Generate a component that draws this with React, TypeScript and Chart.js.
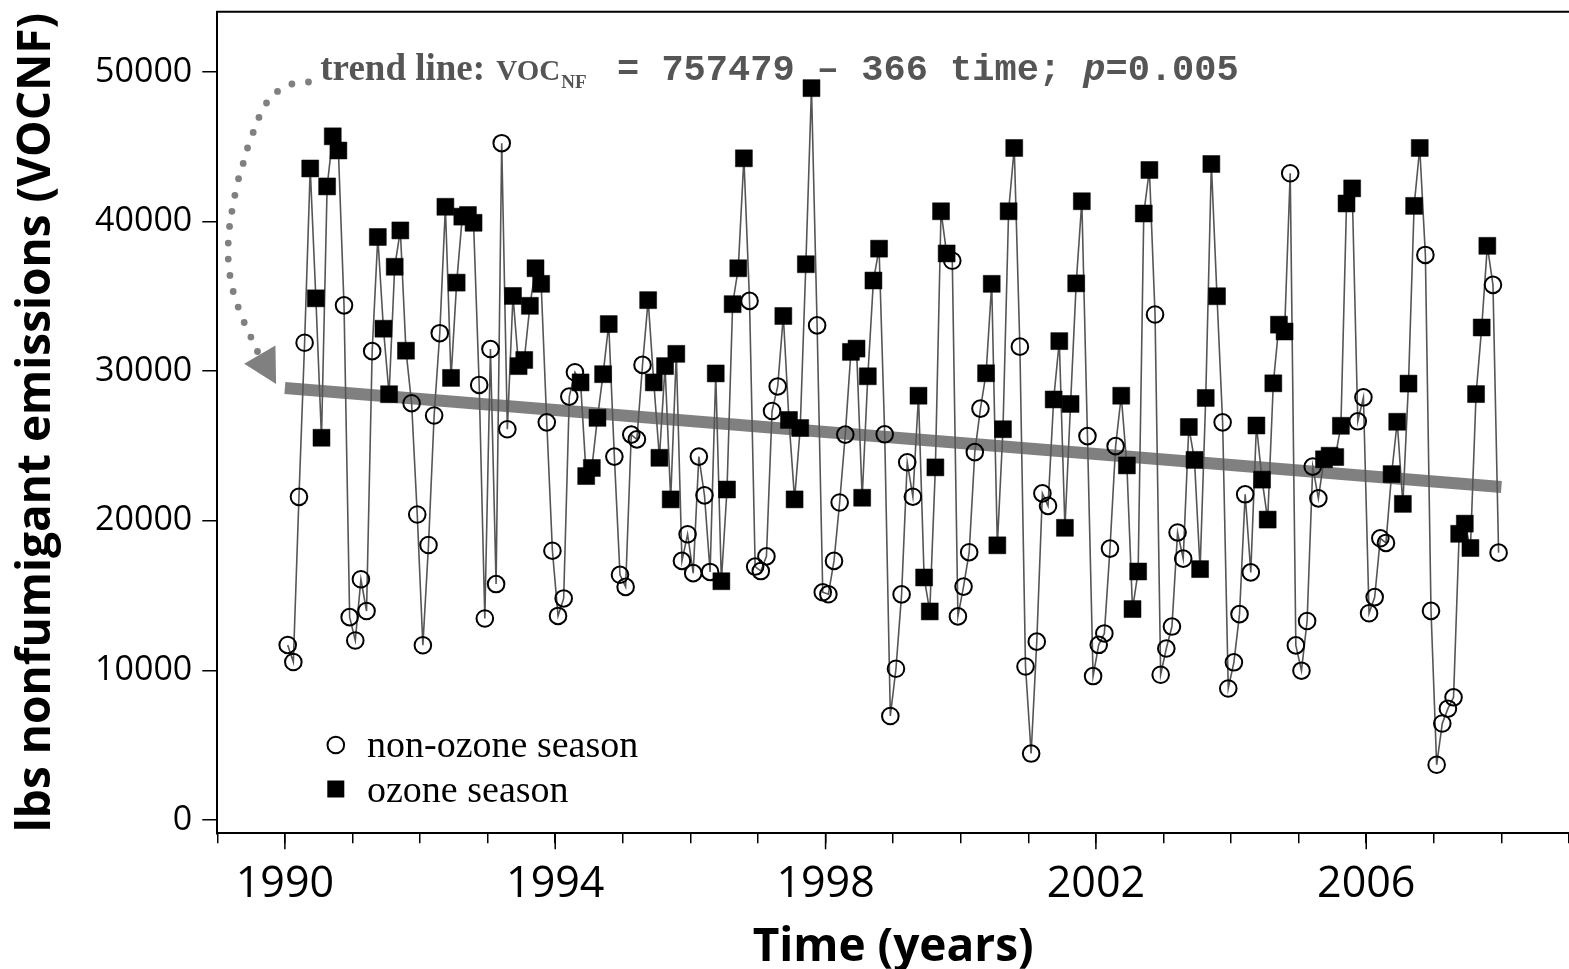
import { useEffect, useRef } from 'react'
import { Chart, registerables } from 'chart.js'

Chart.register(...registerables)

// monthly nonfumigant VOC emissions (lbs), Jan..Dec
const y1990 = [11700, 10560, 21600, 31900, 43550, 34870, 25550, 42350, 45700, 44750, 34400, 13560]
const y1991 = [12000, 16090, 13970, 31340, 38970, 32840, 28460, 36980, 39410, 31370, 27860, 20420]
const y1992 = [11680, 18380, 27040, 32540, 40990, 29550, 35920, 40330, 40440, 39920, 29080, 13470]
const y1993 = [31480, 15770, 45240, 26120, 35030, 30340, 30750, 34370, 36880, 35840, 26580, 18000]
const y1994 = [13640, 14810, 28300, 29930, 29250, 22990, 23530, 26880, 29800, 33150, 24290, 16390]
const y1995 = [15580, 25760, 25440, 30420, 34750, 29250, 24210, 30340, 21430, 31160, 17320, 19100]
const y1996 = [16500, 24290, 21700, 16580, 29850, 15960, 22090, 34480, 36880, 44230, 34700, 16940]
const y1997 = [16640, 17620, 27340, 28980, 33690, 26740, 21430, 26200, 37150, 48920, 33060, 15220]
const y1998 = [15090, 17320, 21220, 25760, 31290, 31510, 21540, 29660, 36060, 38190, 25780, 6950]
const y1999 = [10110, 15080, 23910, 21610, 28360, 16210, 13940, 23570, 40690, 37870, 37380, 13610]
const y2000 = [15600, 17900, 24590, 27500, 29860, 35840, 18360, 26120, 40690, 44920, 31640, 10260]
const y2001 = [4440, 11920, 21830, 21000, 28110, 32010, 19530, 27810, 35870, 41360, 25660, 9620]
const y2002 = [11710, 12470, 18140, 24990, 28360, 23700, 14100, 16610, 40540, 43450, 33790, 9710]
const y2003 = [11460, 12930, 19220, 17470, 26270, 24070, 16770, 28210, 43850, 35010, 26580, 8790]
const y2004 = [10540, 13760, 21770, 16550, 26370, 22750, 20080, 29190, 33110, 32650, 43230, 11670]
const y2005 = [9980, 13300, 23620, 21500, 24110, 24350, 24260, 26350, 41210, 42220, 26650, 28250]
const y2006 = [13820, 14900, 18830, 18520, 23120, 26620, 21130, 29170, 41050, 44920, 37770, 13980]
const y2007 = [3690, 6450, 7440, 8200, 19130, 19810, 18180, 28470, 32920, 38380, 35770, 17870]

const years = [1990, 1991, 1992, 1993, 1994, 1995, 1996, 1997, 1998, 1999, 2000, 2001, 2002, 2003, 2004, 2005, 2006, 2007]
const monthly = [y1990, y1991, y1992, y1993, y1994, y1995, y1996, y1997, y1998, y1999, y2000, y2001, y2002, y2003, y2004, y2005, y2006, y2007]
const ozoneMonths = [5, 6, 7, 8, 9, 10]

// fitted trend as drawn (ends of the grey band)
const trendYears = [1990, 2008]
const trendValues = [28870, 22260]

const xTickYears = [1989, 1990, 1991, 1992, 1993, 1994, 1995, 1996, 1997, 1998, 1999, 2000, 2001, 2002, 2003, 2004, 2005, 2006, 2007, 2008, 2009]
const xLabelYears = [1990, 1994, 1998, 2002, 2006]
const yTicks = [0, 10000, 20000, 30000, 40000, 50000]

// dotted curved arrow from the label down to the trend line (data units)
const arrowDots = [
  [1990.349, 49331], [1990.104, 49197], [1989.891, 48702], [1989.728, 47927], [1989.616, 46964],
  [1989.531, 45961], [1989.447, 44918], [1989.383, 43888], [1989.314, 42864], [1989.260, 41755],
  [1989.216, 40685], [1989.181, 39676], [1989.162, 38565], [1989.162, 37495], [1989.187, 36398],
  [1989.235, 35328], [1989.309, 34285], [1989.398, 33255], [1989.497, 32279], [1989.595, 31316]
]
const arrowHead = [[1989.398, 30500], [1989.86, 31720], [1989.87, 29150]]

const points = years.flatMap((yr, i) => monthly[i].map((v, m) => ({ x: yr + (m + 0.5) / 12, y: v })))
const isOzone = years.flatMap((_, i) => monthly[i].map((_v, m) => ozoneMonths.includes(m + 1)))

const decorations = {
  id: 'decorations',
  afterDraw(chart: any) {
    const { ctx, chartArea: a, scales } = chart
    const x = scales.x
    const y = scales.y
    ctx.save()

    // top frame line
    ctx.strokeStyle = '#000'
    ctx.lineWidth = 2
    ctx.beginPath()
    ctx.moveTo(a.left - 1, a.top)
    ctx.lineTo(a.right, a.top)
    ctx.stroke()

    // long ticks every 4 years
    ctx.lineWidth = 1.5
    ctx.beginPath()
    xLabelYears.forEach(yr => {
      const px = x.getPixelForValue(yr)
      ctx.moveTo(px, a.bottom)
      ctx.lineTo(px, a.bottom + 16)
    })
    ctx.stroke()

    // dotted arrow
    ctx.fillStyle = '#808080'
    arrowDots.forEach(([t, v]) => {
      ctx.beginPath()
      ctx.arc(x.getPixelForValue(t), y.getPixelForValue(v), 3.4, 0, Math.PI * 2)
      ctx.fill()
    })
    ctx.beginPath()
    arrowHead.forEach(([t, v], i) => {
      const px = x.getPixelForValue(t)
      const py = y.getPixelForValue(v)
      if (i === 0) ctx.moveTo(px, py)
      else ctx.lineTo(px, py)
    })
    ctx.closePath()
    ctx.fill()

    // trend annotation
    ctx.fillStyle = '#555'
    ctx.textBaseline = 'alphabetic'
    ctx.textAlign = 'left'
    const tx = a.left + 103
    const base = a.top + 68.5
    ctx.font = 'bold 37px "Liberation Serif"'
    ctx.fillText('trend line:', tx, base)
    let cx = tx + ctx.measureText('trend line: ').width + 2
    ctx.font = 'bold 29px "Liberation Serif"'
    ctx.fillText('VOC', cx, base)
    cx += ctx.measureText('VOC').width + 1
    ctx.font = 'bold 19px "Liberation Serif"'
    ctx.fillText('NF', cx, base + 8)
    let mx = a.left + 399.7
    ctx.font = 'bold 37px "Liberation Mono"'
    const part1 = '= 757479 \u2013 366 time; '
    ctx.fillText(part1, mx, base)
    mx += ctx.measureText(part1).width
    ctx.font = 'italic bold 37px "Liberation Mono"'
    ctx.fillText('p', mx, base)
    mx += ctx.measureText('p').width
    ctx.font = 'bold 37px "Liberation Mono"'
    ctx.fillText('=0.005', mx, base)

    // legend
    const lx = a.left + 118.5
    ctx.strokeStyle = '#000'
    ctx.lineWidth = 2
    ctx.beginPath()
    ctx.arc(lx, a.bottom - 88.3, 8.3, 0, Math.PI * 2)
    ctx.stroke()
    ctx.fillStyle = '#000'
    ctx.fillRect(lx - 8.5, a.bottom - 44.3 - 8.5, 17, 17)
    ctx.font = '38px "Liberation Serif"'
    ctx.fillText('non-ozone season', a.left + 149.7, a.bottom - 76)
    ctx.fillText('ozone season', a.left + 149.7, a.bottom - 31.6)

    ctx.restore()
  }
}

export default function App() {
  const canvasRef = useRef<HTMLCanvasElement>(null)

  useEffect(() => {
    document.body.style.margin = '0'
    if (!canvasRef.current) return
    const existing = Chart.getChart(canvasRef.current)
    if (existing) existing.destroy()

    const chart = new Chart(canvasRef.current, {
      type: 'line',
      data: {
        datasets: [
          {
            data: points,
            borderColor: '#555',
            borderWidth: 1.6,
            tension: 0,
            pointStyle: isOzone.map(o => (o ? 'rect' : 'circle')),
            pointRadius: isOzone.map(o => (o ? 12 : 8.3)),
            pointHoverRadius: isOzone.map(o => (o ? 12 : 8.3)),
            pointBackgroundColor: isOzone.map(o => (o ? '#000' : 'rgba(0,0,0,0)')),
            pointBorderColor: '#000',
            pointBorderWidth: isOzone.map(o => (o ? 0.5 : 2)),
            clip: false,
            order: 1
          },
          {
            data: trendYears.map((t, i) => ({ x: t, y: trendValues[i] })),
            borderColor: '#808080',
            borderWidth: 12,
            borderCapStyle: 'butt',
            pointRadius: 0,
            order: 2
          }
        ]
      },
      options: {
        responsive: false,
        animation: false,
        devicePixelRatio: 1,
        events: [],
        layout: { autoPadding: false, padding: { top: 11.7, right: 0, bottom: 0, left: 0 } },
        plugins: { legend: { display: false }, tooltip: { enabled: false } },
        scales: {
          x: {
            type: 'linear',
            min: 1989,
            max: 2009,
            afterBuildTicks: (s: any) => { s.ticks = xTickYears.map(v => ({ value: v })) },
            afterFit: (s: any) => {
              s.height = 969 - 833.3
              s.paddingLeft = 0
              s.paddingRight = 0
            },
            border: { display: true, color: '#000', width: 2 },
            grid: { drawOnChartArea: false, drawTicks: true, tickLength: 10, color: '#000', lineWidth: 1.5 },
            ticks: {
              autoSkip: false,
              maxRotation: 0,
              padding: 16,
              color: '#000',
              font: { family: '"Open Sans"', size: 43, lineHeight: 1.2 },
              callback: (v: any) => (xLabelYears.includes(v) ? String(v) : '')
            },
            title: {
              display: true,
              text: 'Time (years)',
              color: '#000',
              font: { family: '"Open Sans"', size: 46, weight: 'bold', lineHeight: 0.9 },
              padding: { top: 0, bottom: 0 }
            }
          },
          y: {
            min: -890,
            max: 54030,
            afterBuildTicks: (s: any) => { s.ticks = yTicks.map(v => ({ value: v })) },
            afterFit: (s: any) => {
              s.width = 217.3
              s.paddingTop = 0
              s.paddingBottom = 0
            },
            border: { display: true, color: '#000', width: 2 },
            grid: { drawOnChartArea: false, drawTicks: true, tickLength: 15, color: '#000', lineWidth: 1.5 },
            ticks: {
              padding: 10,
              color: '#000',
              font: { family: '"Open Sans"', size: 34, lineHeight: 1.2 },
              callback: (v: any) => String(v)
            },
            title: {
              display: true,
              text: 'lbs nonfumigant emissions (VOCNF)',
              color: '#000',
              font: { family: '"Open Sans"', size: 46, weight: 'bold', lineHeight: 1.2 },
              padding: { top: 9, bottom: 0 }
            }
          }
        }
      },
      plugins: [decorations]
    })

    return () => { chart.destroy() }
  }, [])

  return (
    <div style={{ width: '1569px', height: '969px', background: '#fff', overflow: 'hidden' }}>
      <canvas ref={canvasRef} width={1569} height={969} style={{ display: 'block' }} />
    </div>
  )
}
